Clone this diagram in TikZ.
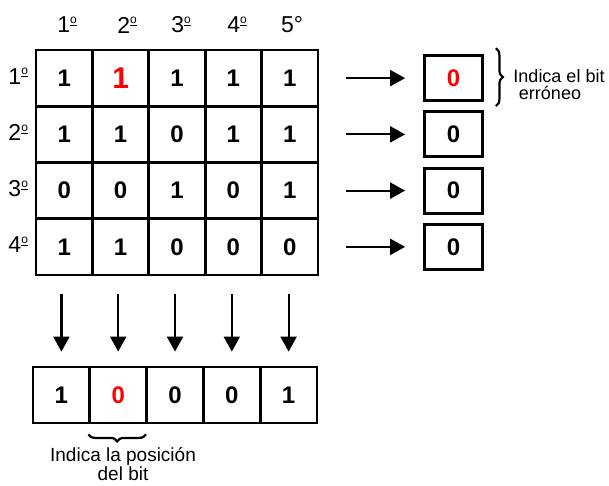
\documentclass[tikz,border=0pt]{standalone}
\usepackage{fontspec}
\setmainfont{Liberation Sans}
\usetikzlibrary{arrows.meta,calc,decorations.pathreplacing}
\newcommand\myord{\raisebox{0.4em}{\fontsize{12}{12}\selectfont\underline{o}}}
\begin{document}
\begin{tikzpicture}[x=1pt,y=1pt,
  cell/.style={draw,line width=2.8pt,minimum width=56.4pt,minimum height=56.25pt,inner sep=0pt,
    font=\fontsize{24}{24}\selectfont\bfseries},
  rbox/.style={draw,line width=2.8pt,minimum width=58pt,minimum height=45pt,inner sep=0pt,
    font=\fontsize{24}{24}\selectfont\bfseries},
  bcell/.style={draw,line width=2.8pt,minimum width=56.8pt,minimum height=56pt,inner sep=0pt,
    font=\fontsize{24}{24}\selectfont\bfseries},
  lbl/.style={font=\fontsize{23}{23}\selectfont,inner sep=0pt},
  arr/.style={line width=2.2pt,-{Triangle[length=15pt,width=16pt]}},
  brc/.style={line width=2.2pt,decorate,decoration={brace,amplitude=7pt}},
  note/.style={font=\fontsize{18}{17}\selectfont,align=center,inner sep=0pt},
]
\useasboundingbox (0,0) rectangle (609,-486);
% grid
\foreach \r/\row in {1/{1,{\textcolor{red}{\fontsize{30}{30}\selectfont 1}},1,1,1},2/{1,1,0,1,1},3/{0,0,1,0,1},4/{1,1,0,0,0}}{
  \foreach \v [count=\c] in \row {
    \node[cell] (c-\r-\c) at ({36+56.4*(\c-0.5)},{-50-56.25*(\r-0.5)}) {\v};
  }
}
% headers
\node[lbl] (h1) at (67,-25) {1\myord};
\node[lbl] (h2) at (127,-25) {2\myord};
\node[lbl] (h3) at (181,-25) {3\myord};
\node[lbl] (h4) at (237,-25) {4\myord};
\node[lbl] (h5) at (292,-25) {5°};
\foreach \r in {1,...,4}{
  \node[lbl] (r\r) at ($(c-\r-1.center)+(-46pt,2pt)$) {\r\myord};
}
% right boxes
\foreach \r/\v in {1/{\textcolor{red}{0}},2/0,3/0,4/0}{
  \node[rbox] (b\r) at (453.5,{-50-56.25*(\r-0.5)}) {\v};
  \draw[arr] ($(c-\r-5.east)+(27pt,0)$) -- ($(b\r.west)+(-18pt,0)$);
}
% bottom row
\foreach \v [count=\c] in {1,{\textcolor{red}{0}},0,0,1}{
  \node[bcell] (d\c) at ({33+56.8*(\c-0.5)},-395) {\v};
  \draw[arr] ($(d\c.north |- c-4-\c.south)+(0,-18pt)$) -- ($(d\c.north)+(0,14pt)$);
}
% braces and notes
\coordinate (rb1) at ($(b1.north east)+(12pt,6pt)$);
\coordinate (rb2) at ($(b1.south east)+(12pt,-4pt)$);
\draw[brc] (rb1) -- (rb2);
\node[note] (n1) at (559,-85) {Indica el bit\\erróneo\hspace*{18pt}};
\coordinate (bb1) at ($(d2.south east)+(-2pt,-10pt)$);
\coordinate (bb2) at ($(d2.south west)+(0pt,-10pt)$);
\draw[brc] (bb1) -- (bb2);
\node[note,font=\fontsize{19}{19}\selectfont] (n2) at (123,-464) {Indica la posición\\del bit};
\end{tikzpicture}
\end{document}
